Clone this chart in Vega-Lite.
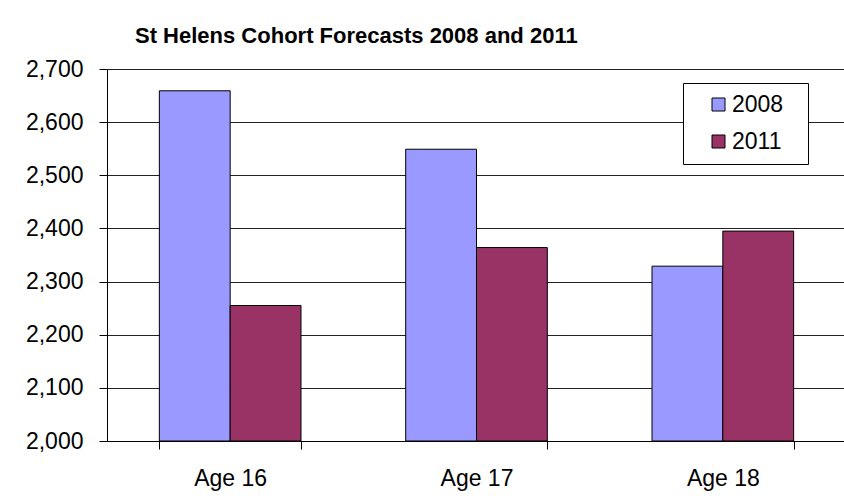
{
  "$schema": "https://vega.github.io/schema/vega-lite/v6.json",
  "width": 739,
  "height": 372,
  "autosize": "none",
  "padding": {"left": 107, "top": 69, "right": 0, "bottom": 62},
  "background": "white",
  "title": {
    "text": "St Helens Cohort Forecasts 2008 and 2011",
    "anchor": "start",
    "frame": "group",
    "dx": 28,
    "dy": 32,
    "offset": 25,
    "baseline": "alphabetic",
    "fontSize": 22,
    "fontWeight": "bold",
    "font": "Liberation Sans",
    "color": "black"
  },
  "data": {
    "values": [
      {"age": "Age 16", "year": "2008", "value": 2659},
      {"age": "Age 16", "year": "2011", "value": 2255},
      {"age": "Age 17", "year": "2008", "value": 2549},
      {"age": "Age 17", "year": "2011", "value": 2364},
      {"age": "Age 18", "year": "2008", "value": 2329},
      {"age": "Age 18", "year": "2011", "value": 2395}
    ]
  },
  "mark": {"type": "bar", "stroke": "black", "strokeWidth": 1},
  "encoding": {
    "x": {
      "field": "age",
      "type": "nominal",
      "scale": {"paddingInner": 0.425, "paddingOuter": 0.2125},
      "axis": {
        "title": null,
        "labelAngle": 0,
        "labelFontSize": 23,
        "labelColor": "black",
        "labelPadding": 18,
        "tickBand": "extent",
        "tickSize": 8,
        "tickColor": "black",
        "domainColor": "black",
        "labelFont": "Liberation Sans"
      }
    },
    "xOffset": {"field": "year", "type": "nominal"},
    "y": {
      "field": "value",
      "type": "quantitative",
      "scale": {"domain": [2000, 2700], "zero": false, "nice": false},
      "axis": {
        "title": null,
        "values": [2000, 2100, 2200, 2300, 2400, 2500, 2600, 2700],
        "format": ",.0f",
        "grid": true,
        "gridColor": "#222222",
        "tickSize": 8,
        "tickColor": "black",
        "domainColor": "black",
        "labelFontSize": 23,
        "labelColor": "black",
        "labelPadding": 16,
        "labelFont": "Liberation Sans"
      }
    },
    "y2": {"datum": 2000},
    "color": {
      "field": "year",
      "type": "nominal",
      "scale": {"domain": ["2008", "2011"], "range": ["#9999FF", "#993366"]},
      "legend": {
        "title": ".",
        "titleOrient": "right",
        "titleOpacity": 0,
        "titleFontSize": 8,
        "titlePadding": 12,
        "orient": "none",
        "legendX": 576,
        "legendY": 14,
        "strokeColor": "black",
        "fillColor": "white",
        "padding": 10,
        "symbolOffset": 14,
        "symbolType": "square",
        "symbolSize": 169,
        "symbolStrokeColor": "black",
        "symbolStrokeWidth": 1,
        "labelFontSize": 23,
        "labelFont": "Liberation Sans",
        "labelColor": "black",
        "labelOffset": 2,
        "rowPadding": 13
      }
    }
  },
  "config": {
    "view": {"stroke": null},
    "font": "Liberation Sans"
  }
}
